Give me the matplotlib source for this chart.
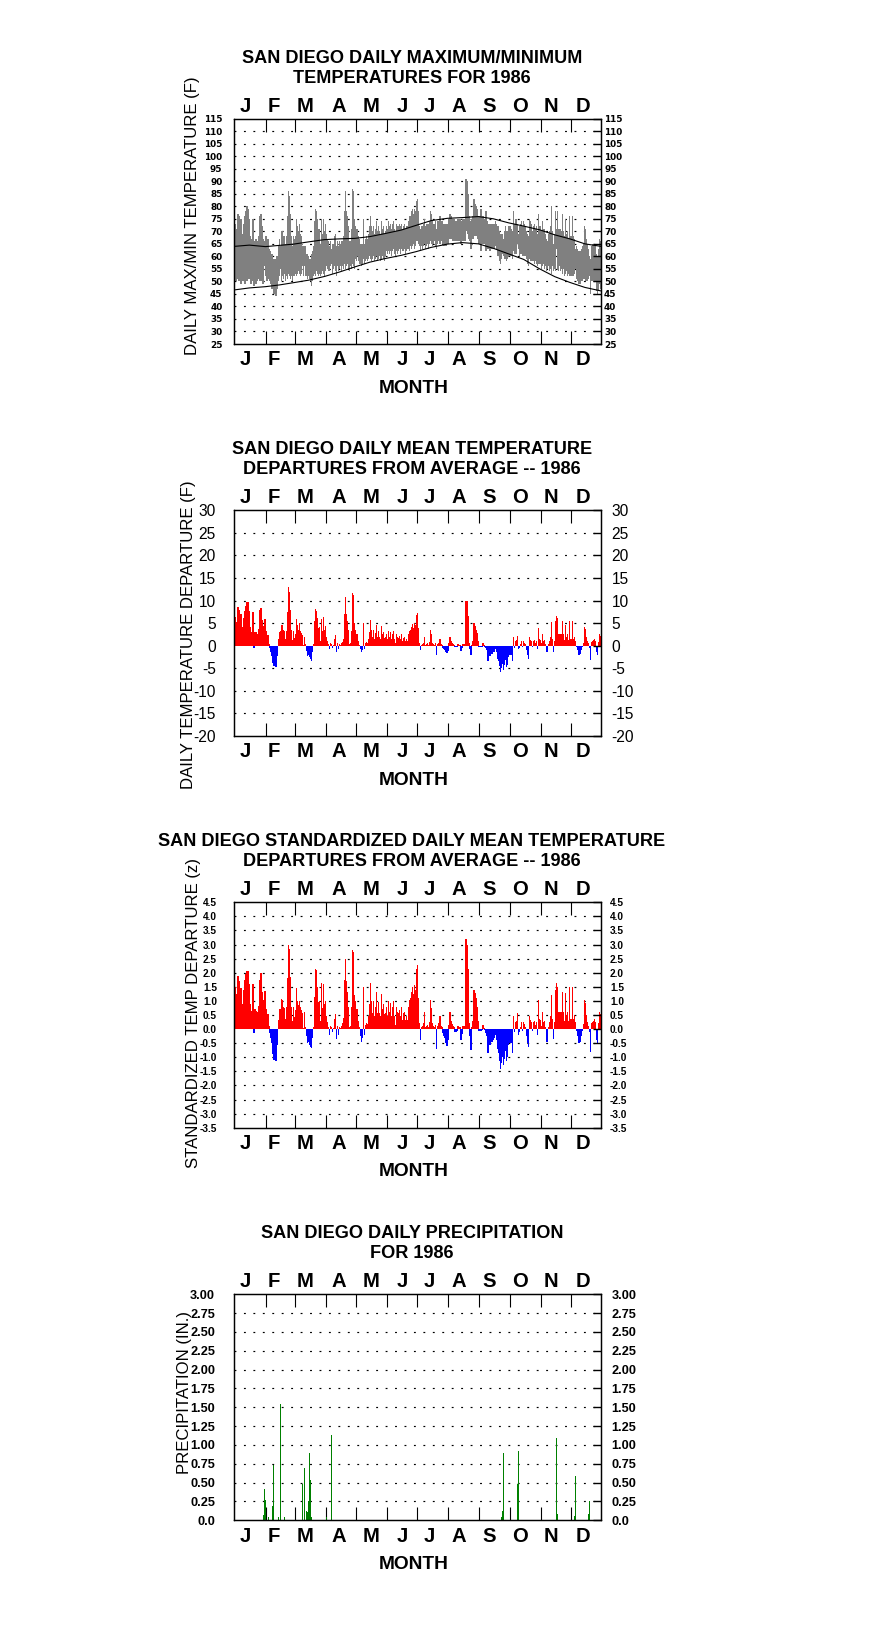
import numpy as np
import matplotlib
matplotlib.use("Agg")
import matplotlib.pyplot as plt
from matplotlib.font_manager import FontProperties
from matplotlib.transforms import blended_transform_factory

W, H, DPI = 876, 1634, 100

# ------------------------------------------------------------------ data
month_letters = ["J", "F", "M", "A", "M", "J", "J", "A", "S", "O", "N", "D"]
month_start_doy = [32, 60, 91, 121, 152, 182, 213, 244, 274, 305, 335]   # Feb 1 ... Dec 1

# daily max / min temperature (F), 1986
hi_temp = [
    73,71,70,77,76,68,75,69,68,73,76,78,80,79,75,68,63,67,75,61,66,67,66,63,68,76,77,72,67,64,66,
    68,66,67,63,62,61,61,57,59,59,59,60,64,67,64,70,70,68,68,65,68,76,86,84,77,68,64,68,
    67,68,75,72,70,73,69,68,64,64,64,64,61,61,60,59,59,61,62,64,74,79,78,75,71,71,65,75,69,75,70,
    73,69,67,66,64,66,63,65,65,68,69,64,66,64,66,65,66,66,68,78,86,78,76,72,66,66,71,87,86,75,
    72,71,71,68,67,65,65,65,75,65,67,68,67,69,72,76,72,70,72,69,71,74,70,72,70,69,74,71,72,69,70,
    72,71,74,72,73,71,73,74,71,70,73,72,72,73,72,73,71,72,73,71,72,72,74,76,76,78,79,77,79,78,
    82,83,78,72,71,72,72,73,75,72,73,73,73,74,78,77,74,73,73,74,71,74,74,76,74,74,73,73,73,73,72,
    73,75,77,76,75,75,75,74,74,74,75,75,75,73,74,75,75,75,91,90,85,76,74,73,75,76,83,81,80,79,76,
    76,75,79,75,76,75,74,78,74,70,73,73,73,73,73,73,74,73,72,72,70,69,69,69,67,70,72,70,70,72,
    72,72,71,70,78,73,75,75,73,69,72,73,74,72,74,73,72,70,69,68,75,74,73,70,72,73,71,72,69,77,72,
    72,70,74,71,71,69,67,66,69,70,72,80,70,65,69,78,71,78,71,71,71,70,77,70,68,75,69,70,67,76,
    68,68,76,68,67,63,64,63,62,62,62,63,64,65,72,71,67,65,63,60,59,64,65,65,65,64,61,60,63,67,66,
]
lo_temp = [
    52,50,52,51,50,51,49,50,52,50,49,51,50,53,51,52,49,50,51,48,52,49,50,52,51,50,52,50,49,56,57,
    52,50,51,52,50,49,47,48,45,46,44,47,50,52,55,50,52,51,53,50,52,51,53,52,51,52,50,52,
    52,53,52,53,54,53,52,53,56,52,56,52,52,51,52,51,50,48,50,52,53,52,54,53,52,53,52,53,54,53,52,
    54,56,55,54,54,56,57,53,55,56,54,52,56,54,55,56,54,56,55,57,55,56,57,55,54,56,55,57,56,55,
    59,58,60,58,57,57,56,57,59,57,58,59,58,59,60,59,58,59,60,58,59,60,58,59,60,58,59,60,59,58,60,
    62,61,62,61,62,60,62,63,61,60,62,61,62,63,61,63,62,62,63,61,62,63,63,62,64,63,64,65,63,64,
    66,66,65,64,62,64,63,64,65,63,64,65,63,65,66,65,64,65,66,64,63,65,66,65,66,67,65,64,65,64,65,
    65,67,67,67,67,66,66,66,66,67,66,67,66,65,66,66,67,66,71,70,69,67,66,63,67,67,69,68,68,68,67,
    65,65,62,65,66,65,65,62,64,63,63,62,63,63,63,63,64,63,60,60,58,57,59,61,60,59,59,58,59,60,
    60,60,60,59,62,61,61,61,65,63,60,61,61,60,60,60,60,59,57,56,59,58,58,58,58,57,58,57,56,57,57,
    57,55,56,57,55,56,54,55,56,54,55,53,56,54,55,54,63,55,54,56,54,55,53,55,52,53,54,52,53,52,
    52,52,52,52,53,55,51,50,49,49,49,50,50,51,51,50,50,50,51,52,45,50,50,50,50,50,46,45,46,49,47,
]

# normal max / min (F) sampled along the year
normal_day = [0, 15, 31, 45, 59, 74, 90, 105, 120, 135, 151, 166, 181, 196, 212, 227,
              243, 258, 273, 288, 304, 319, 334, 349, 365]
normal_hi = [64.0, 64.5, 63.9, 64.4, 64.9, 65.8, 66.7, 67.0, 67.2, 67.9, 69.2, 70.5, 72.4,
             74.3, 75.2, 75.5, 75.9, 75.0, 73.4, 72.1, 70.6, 68.6, 67.0, 65.0, 64.0]
normal_lo = [46.6, 47.4, 47.9, 48.6, 49.5, 50.5, 52.0, 53.8, 55.8, 57.7, 59.2, 60.4, 61.9,
             63.6, 64.9, 65.5, 65.0, 63.2, 61.0, 58.8, 55.0, 51.9, 49.6, 47.6, 46.2]

# daily mean temperature departure (F)
dep_f = [
    6.4,5.3,5.2,8.6,8.0,3.9,7.1,4.1,3.9,6.1,7.6,8.8,9.7,9.7,7.6,4.1,1.1,3.0,7.5,-0.6,3.0,3.0,2.6,1.3,3.8,8.0,8.3,5.8,3.2,4.4,5.9,
    3.2,2.4,2.4,0.4,-0.6,-1.3,-2.2,-3.8,-4.6,-4.1,-4.8,-2.3,1.4,3.0,3.2,4.6,4.6,3.5,3.3,1.5,3.3,7.5,13.0,11.8,8.0,3.5,1.2,3.3,
    1.7,2.7,5.9,4.7,3.5,5.0,3.2,2.8,2.3,0.2,2.0,0.3,-1.2,-2.2,-2.0,-2.5,-3.0,-3.3,-1.5,0.3,5.4,8.1,7.8,6.1,3.9,4.1,1.1,6.0,3.2,6.3,3.5,
    4.3,2.0,1.0,0.3,-0.7,0.5,0.3,-0.5,0.2,1.5,2.3,-1.5,0.5,-0.8,0.3,0.2,0.5,0.8,1.5,7.0,10.8,7.0,5.5,3.5,0.3,0.5,3.3,11.7,11.2,5.0,
    3.5,2.5,2.5,1.0,0.2,-0.8,-1.5,-1.0,5.0,-0.8,0.5,0.8,0.6,1.5,3.0,5.8,3.5,2.0,3.5,1.5,2.8,4.5,2.0,3.3,2.0,1.5,4.3,2.5,3.0,1.8,2.0,
    2.5,1.5,3.3,2.0,3.0,1.5,2.5,3.3,1.5,0.5,2.5,2.0,1.8,2.2,1.5,2.5,1.0,1.8,2.0,1.0,1.5,1.0,2.5,3.3,3.5,4.2,4.8,4.0,5.0,4.5,
    6.9,7.2,3.9,0.6,-1.0,0.2,0.4,0.6,2.0,0.2,0.3,0.5,0.2,0.8,3.5,2.5,0.6,0.3,0.2,0.5,-2.0,0.3,0.7,1.5,0.3,0.2,-0.4,-0.7,-0.9,-1.4,-1.6,
    -1.2,0.5,1.9,1.0,0.6,0.3,0.2,-0.3,-0.3,-0.2,0.3,0.2,0.2,-1.2,-0.5,0.3,0.2,0.4,10.0,9.8,6.5,0.7,-0.8,-2.0,0.2,1.1,5.0,4.3,3.5,2.8,1.0,
    -0.3,-0.3,-0.3,-0.2,0.6,0.1,-0.2,-0.5,-1.0,-3.3,-2.0,-2.2,-1.5,-1.8,-1.5,-1.3,-0.8,-1.5,-3.0,-3.4,-4.5,-5.8,-5.0,-4.0,-5.3,-4.3,-3.2,-4.8,-4.2,-2.4,
    -2.0,-2.0,-2.0,-3.3,2.0,-0.5,1.0,1.2,2.2,-0.8,-0.4,0.3,1.0,-0.3,1.0,0.7,0.3,-1.0,-2.0,-3.0,1.9,1.3,1.0,-0.3,1.0,1.2,0.6,1.0,-0.8,4.0,1.5,
    1.3,0.5,2.5,1.0,1.2,0.3,-1.5,-1.5,0.3,1.0,2.0,5.3,1.5,-1.5,1.0,5.5,6.5,6.1,2.5,2.5,2.5,2.5,5.5,2.5,1.2,4.5,2.0,2.5,1.2,5.5,
    1.5,1.5,5.5,1.5,2.0,1.0,-0.3,-1.0,-2.0,-2.0,-1.8,-1.0,-0.3,0.7,4.2,3.8,2.0,1.0,0.5,-0.5,-3.2,0.8,1.0,1.2,1.5,1.0,-1.5,-2.0,0.8,2.5,2.2,
]

# standardized daily mean temperature departure (z)
dep_z = [
    1.5,1.24,1.1,1.9,1.72,0.84,1.45,0.9,0.85,1.4,1.75,1.95,2.05,2.05,1.6,0.9,0.3,0.65,1.6,-0.15,0.7,0.65,0.6,0.3,0.82,1.75,2.0,1.3,0.75,1.05,1.35,
    0.72,0.55,0.55,0.1,-0.15,-0.3,-0.5,-0.9,-1.1,-0.95,-1.15,-0.55,0.32,0.7,0.72,1.08,1.05,0.8,0.75,0.35,0.78,1.8,3.0,2.85,1.85,0.8,0.28,0.78,
    0.42,0.66,1.45,1.0,0.85,1.0,0.78,0.68,0.56,0.05,0.6,0.07,-0.25,-0.5,-0.45,-0.55,-0.62,-0.68,-0.32,0.07,1.15,2.12,2.08,1.5,0.95,0.98,0.27,1.62,0.75,1.6,0.9,
    1.0,0.47,0.24,0.07,-0.2,0.12,0.07,-0.12,0.05,0.35,0.55,-0.35,0.12,-0.2,0.07,0.05,0.12,0.2,0.4,1.75,2.5,1.7,1.3,0.8,0.07,0.12,0.8,2.8,2.75,1.2,
    1.0,0.72,0.72,0.3,0.06,-0.25,-0.45,-0.3,1.5,-0.22,0.15,0.22,0.18,0.45,0.9,1.65,1.0,0.58,1.0,0.45,0.8,1.3,0.58,0.95,0.58,0.45,1.25,0.72,0.88,0.52,0.58,
    0.78,0.46,1.0,0.62,0.93,0.46,0.78,1.0,0.46,0.15,0.78,0.62,0.56,0.68,0.46,0.78,0.31,0.56,0.62,0.31,0.46,0.31,0.78,1.02,1.1,1.3,1.5,1.25,1.55,1.4,
    2.13,2.27,1.1,0.2,-0.4,0.06,0.12,0.2,0.6,0.06,0.1,0.15,0.06,0.25,1.03,0.75,0.2,0.1,0.06,0.15,-0.69,0.1,0.22,0.48,0.1,0.06,-0.14,-0.25,-0.32,-0.5,-0.6,
    -0.4,0.15,0.62,0.3,0.18,0.1,0.06,-0.1,-0.1,-0.06,0.1,0.06,0.06,-0.4,-0.16,0.1,0.06,0.12,3.2,2.98,2.15,0.22,-0.25,-0.75,0.06,0.3,1.38,1.27,1.09,0.77,0.3,
    -0.08,-0.08,-0.08,-0.05,0.15,0.03,-0.05,-0.13,-0.25,-0.84,-0.49,-0.55,-0.37,-0.45,-0.37,-0.32,-0.2,-0.37,-0.72,-0.85,-1.12,-1.4,-1.2,-0.98,-1.28,-1.05,-0.78,-1.15,-1.0,-0.58,
    -0.48,-0.5,-0.5,-0.85,0.46,-0.12,0.24,0.3,0.56,-0.2,-0.1,0.07,0.24,-0.07,0.24,0.17,0.07,-0.24,-0.48,-0.65,0.46,0.32,0.24,-0.07,0.24,0.3,0.15,0.24,-0.2,1.03,0.36,
    0.32,0.12,0.62,0.25,0.3,0.07,-0.45,-0.45,0.07,0.25,0.46,1.2,0.37,-0.35,0.25,1.38,1.64,1.5,0.6,0.62,0.6,0.62,1.3,0.6,0.3,1.27,0.5,0.62,0.3,1.48,
    0.37,0.37,1.48,0.37,0.5,0.25,-0.07,-0.25,-0.5,-0.5,-0.45,-0.25,-0.07,0.17,1.03,0.93,0.5,0.25,0.12,-0.12,-0.8,0.2,0.25,0.3,0.37,0.25,-0.37,-0.5,0.2,0.6,0.55,
]

# daily precipitation (in.) -- only the days with rain
precip_day = [5, 28, 29, 30, 33, 37, 38, 43, 45, 46, 49, 67, 69, 71, 72, 73, 74, 75, 76, 91,
              95, 96, 186, 265, 266, 267, 281, 282, 320, 321, 338, 339, 352, 353]
precip_in = [0.01, 0.07, 0.41, 0.27, 0.05, 0.19, 0.73, 0.04, 1.55, 0.01, 0.04, 0.48, 0.69, 0.13,
             0.11, 0.25, 0.90, 0.53, 0.04, 0.04, 0.01, 1.13, 0.01, 0.04, 0.12, 0.90, 0.48, 0.92,
             1.09, 0.08, 0.06, 0.59, 0.08, 0.25]

# tick labels
t1_ticks = list(range(115, 24, -5))
t1_labels = [str(v) for v in t1_ticks]
t2_ticks = list(range(30, -21, -5))
t2_labels = [str(v) for v in t2_ticks]
t3_ticks = [4.5, 4.0, 3.5, 3.0, 2.5, 2.0, 1.5, 1.0, 0.5, 0.0, -0.5, -1.0, -1.5, -2.0, -2.5, -3.0, -3.5]
t3_labels = ["%.1f" % v for v in t3_ticks]
t4_ticks = [3.0, 2.75, 2.5, 2.25, 2.0, 1.75, 1.5, 1.25, 1.0, 0.75, 0.5, 0.25, 0.0]
t4_labels = ["3.00", "2.75", "2.50", "2.25", "2.00", "1.75", "1.50", "1.25", "1.00",
             "0.75", "0.50", "0.25", "0.0"]

# ------------------------------------------------------------------ layout
LEFT, RIGHT = 234.3, 601.0
TOPS = [118.7, 510.3, 902.3, 1294.3]
BOTS = [344.0, 736.0, 1127.7, 1520.3]
MONTH_X = [10.65, 39.2, 70.9, 104.0, 136.4, 167.1, 194.3, 223.8, 253.7, 284.4, 315.5, 346.6]

def fx(x):
    return x / W

def fy(y):
    return 1.0 - y / H

F_TITLE = FontProperties(family="Liberation Sans", weight="bold", size=13.1)
F_MONTH = FontProperties(family="Liberation Sans", weight="bold", size=14.6)
F_MONTHLBL = FontProperties(family="Liberation Sans", weight="bold", size=13.8)
F_YLAB = FontProperties(family="Liberation Sans", weight="normal", size=12.1)

fig = plt.figure(figsize=(W / DPI, H / DPI), dpi=DPI)
fig.patch.set_facecolor("white")

days = np.arange(365)


def make_panel(i, ylim, ticks, labels, grid_levels, tfont, pad_l, pad_r,
               title1, title2, ylabel, ylab_x, ylab_y):
    top, bot = TOPS[i], BOTS[i]
    ax = fig.add_axes([fx(LEFT), fy(bot), (RIGHT - LEFT) / W, (bot - top) / H])
    ax.set_xlim(0, 365)
    ax.set_ylim(*ylim)
    for s in ax.spines.values():
        s.set_linewidth(0.9)
    ax.set_xticks(month_start_doy)
    ax.tick_params(axis="x", which="major", direction="in", length=9.4, width=0.8,
                   top=True, bottom=True, labeltop=False, labelbottom=False)
    twin = ax.twinx()
    twin.set_ylim(*ylim)
    for s in twin.spines.values():
        s.set_linewidth(0.9)
    twin.set_yticks(ticks)
    twin.set_yticklabels(labels, fontproperties=tfont)
    twin.tick_params(axis="y", direction="in", length=5.8, width=1.0, right=True,
                     left=False, labelright=True, pad=pad_r)
    ax.set_yticks(ticks)
    ax.set_yticklabels(labels, fontproperties=tfont)
    ax.tick_params(axis="y", left=False, right=False, labelleft=True,
                   labelright=False, pad=pad_l)
    for lev in grid_levels:
        ax.axhline(lev, color="black", lw=0.85, linestyle=(0, (1.6, 6.4)), zorder=0.5)
    tr = blended_transform_factory(ax.transData, ax.transAxes)
    hpx = bot - top
    for xm, lt in zip(MONTH_X, month_letters):
        ax.text(xm, 1 + 7.0 / hpx, lt, transform=tr, ha="center", va="baseline",
                fontproperties=F_MONTH)
        ax.text(xm, -21.3 / hpx, lt, transform=tr, ha="center", va="baseline",
                fontproperties=F_MONTH)
    fig.text(fx(413.3), fy(bot + 48.8), "MONTH", ha="center", va="baseline",
             fontproperties=F_MONTHLBL)
    fig.text(fx(411.8), fy(top - 56.0), title1, ha="center", va="baseline",
             fontproperties=F_TITLE)
    fig.text(fx(411.8), fy(top - 36.0), title2, ha="center", va="baseline",
             fontproperties=F_TITLE)
    fig.text(fx(ylab_x), fy(ylab_y), ylabel, rotation=90, ha="center", va="center",
             fontproperties=F_YLAB)
    return ax


# ---- panel 1: max/min
f_small_dv = FontProperties(family="DejaVu Sans", weight="bold", size=6.4)
ax1 = make_panel(0, (25, 115), t1_ticks, t1_labels, list(range(110, 29, -5)),
                 f_small_dv, 5.0, 2.2,
                 "SAN DIEGO DAILY MAXIMUM/MINIMUM", "TEMPERATURES FOR 1986",
                 "DAILY MAX/MIN TEMPERATURE (F)", 193.0, 215.8)
hi = np.array(hi_temp, dtype=float)
lo = np.array(lo_temp, dtype=float)
ax1.bar(days, hi - lo, bottom=lo, width=1.25, align="edge", color="#808080",
        linewidth=0, antialiased=False, zorder=2)
ax1.plot(normal_day, normal_hi, color="black", lw=0.8, zorder=3)
ax1.plot(normal_day, normal_lo, color="black", lw=0.8, zorder=3)

# ---- panel 2: departures (F)
f_mid = FontProperties(family="Liberation Sans", weight="normal", size=11.2)
ax2 = make_panel(1, (-20, 30), t2_ticks, t2_labels, [25, 20, 15, 10, 5, -5, -10, -15],
                 f_mid, 9.8, 7.7,
                 "SAN DIEGO DAILY MEAN TEMPERATURE", "DEPARTURES FROM AVERAGE -- 1986",
                 "DAILY TEMPERATURE DEPARTURE (F)", 188.0, 635.0)
d = np.array(dep_f)
ax2.bar(days, d, width=1.25, align="edge",
        color=np.where(d >= 0, "#FF0000", "#0000FF"), linewidth=0,
        antialiased=False, zorder=2)

# ---- panel 3: standardized departures
f_small_ls = FontProperties(family="Liberation Sans", weight="bold", size=7.3)
ax3 = make_panel(2, (-3.5, 4.5), t3_ticks, t3_labels,
                 [4.0, 3.5, 3.0, 2.5, 2.0, 1.5, 1.0, 0.5, -0.5, -1.0, -1.5, -2.0, -2.5, -3.0],
                 f_small_ls, 9.0, 6.5,
                 "SAN DIEGO STANDARDIZED DAILY MEAN TEMPERATURE",
                 "DEPARTURES FROM AVERAGE -- 1986",
                 "STANDARDIZED TEMP DEPARTURE (z)", 193.5, 1012.8)
z = np.array(dep_z)
ax3.bar(days, z, width=1.25, align="edge",
        color=np.where(z >= 0, "#FF0000", "#0000FF"), linewidth=0,
        antialiased=False, zorder=2)

# ---- panel 4: precipitation
f_p4 = FontProperties(family="Liberation Sans", weight="bold", size=9.2)
ax4 = make_panel(3, (0, 3), t4_ticks, t4_labels,
                 [2.75, 2.5, 2.25, 2.0, 1.75, 1.5, 1.25, 1.0, 0.75, 0.5, 0.25],
                 f_p4, 10.3, 7.7,
                 "SAN DIEGO DAILY PRECIPITATION", "FOR 1986",
                 "PRECIPITATION (IN.)", 184.5, 1393.0)
ax4.vlines(np.array(precip_day) + 0.5, 0, precip_in, color="#008000",
           linewidth=0.6, antialiased=False, zorder=2)

fig.savefig("out.png", dpi=DPI, facecolor="white")
